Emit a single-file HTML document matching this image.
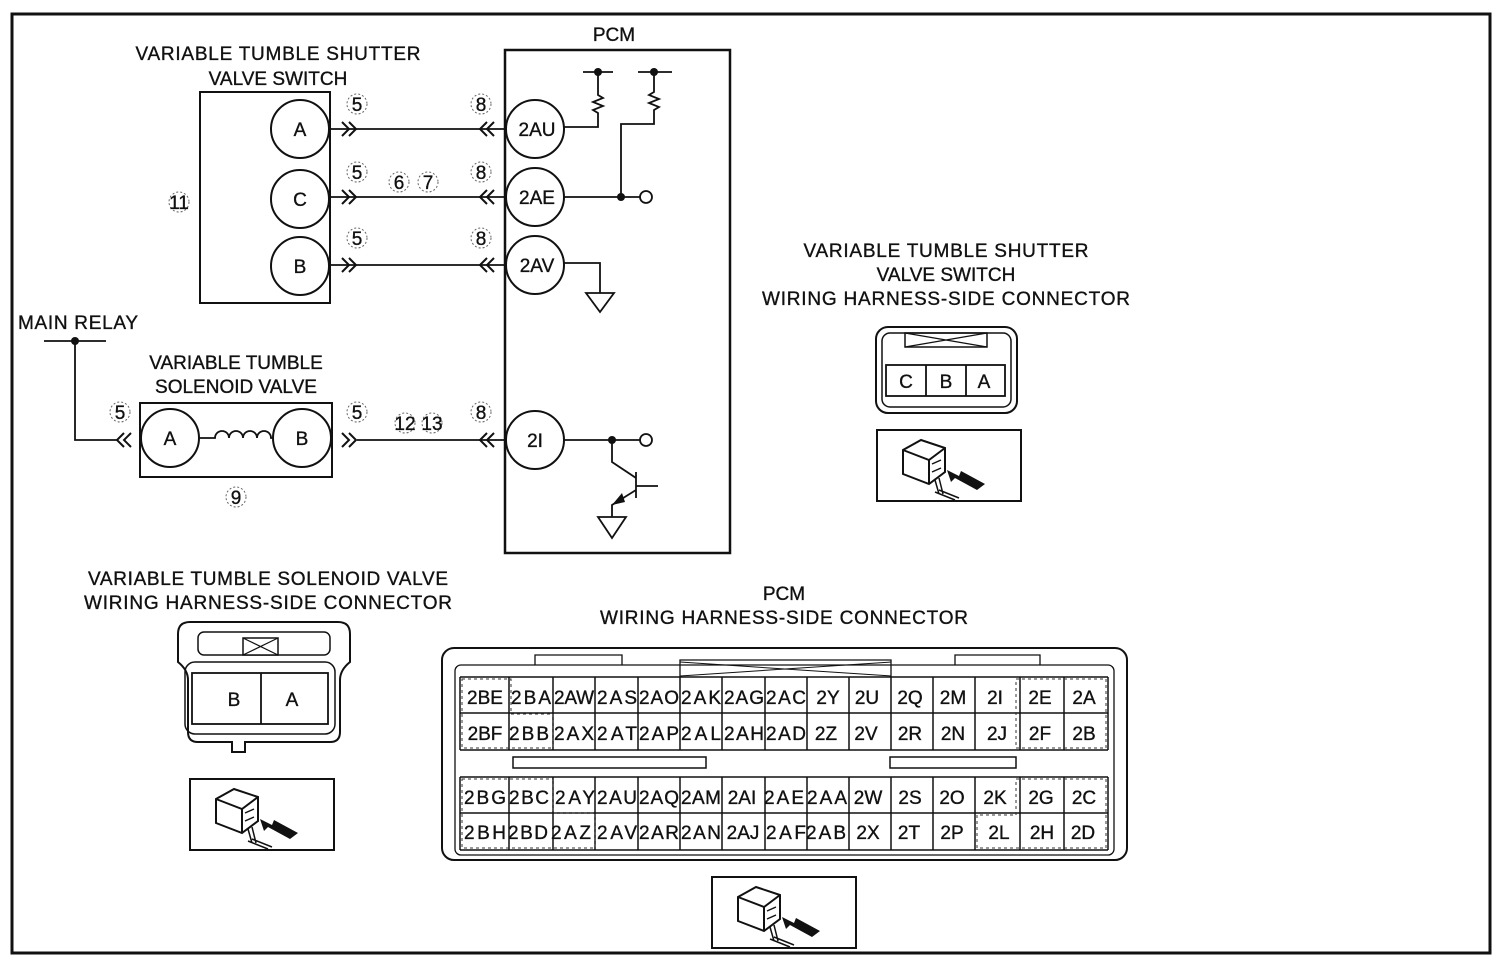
<!DOCTYPE html>
<html><head><meta charset="utf-8"><style>
html,body{margin:0;padding:0;background:#fff;}
svg{display:block;}
text{font-family:"Liberation Sans",sans-serif;fill:#111;stroke:#111;stroke-width:0.35;}
</style></head><body>
<svg width="1502" height="966" viewBox="0 0 1502 966" xmlns="http://www.w3.org/2000/svg">
<defs>
<g id="icon">
  <rect x="0" y="0" width="144" height="71" fill="#fff" stroke="#111" stroke-width="2"/>
  <path d="M26 20 L44 10 L68 18 L68 42 L52 54 L26 44 Z" fill="#fff" stroke="#111" stroke-width="2"/>
  <path d="M26 20 L52 30 L68 18 M52 30 L52 54" fill="none" stroke="#111" stroke-width="2"/>
  <path d="M55 34 L64 30 M55 42 L64 38 M58 50 L62 64 M62 48 L66 64 M58 62 L78 70 M62 60 L82 68" stroke="#111" stroke-width="1.5" fill="none"/>
  <path d="M70 40 L82 46 L84 41 L108 54 L100 60 L78 48 L74 52 Z" fill="#111"/>
</g>
<g id="chR"><path d="M0 -7 L7 0 L0 7 M7 -7 L14 0 L7 7" fill="none" stroke="#111" stroke-width="2"/></g>
<g id="chL"><path d="M14 -7 L7 0 L14 7 M7 -7 L0 0 L7 7" fill="none" stroke="#111" stroke-width="2"/></g>
</defs>
<rect x="12" y="14" width="1478" height="939" fill="none" stroke="#111" stroke-width="3"/>

<g font-size="19" text-anchor="middle">
<text x="278" y="60" textLength="285">VARIABLE TUMBLE SHUTTER</text>
<text x="278" y="85">VALVE SWITCH</text>
<text x="614" y="41">PCM</text>
<text x="236" y="369">VARIABLE TUMBLE</text>
<text x="236" y="393">SOLENOID VALVE</text>
<text x="946" y="257" textLength="285">VARIABLE TUMBLE SHUTTER</text>
<text x="946" y="281">VALVE SWITCH</text>
<text x="946" y="305" textLength="368">WIRING HARNESS-SIDE CONNECTOR</text>
<text x="268" y="585" textLength="360">VARIABLE TUMBLE SOLENOID VALVE</text>
<text x="268" y="609" textLength="368">WIRING HARNESS-SIDE CONNECTOR</text>
<text x="784" y="600">PCM</text>
<text x="784" y="624" textLength="368">WIRING HARNESS-SIDE CONNECTOR</text>
</g>
<text x="18" y="329" font-size="19" textLength="120">MAIN RELAY</text>

<rect x="200" y="92" width="130" height="211" fill="none" stroke="#111" stroke-width="2"/>
<g fill="#fff" stroke="#111" stroke-width="2">
<circle cx="300" cy="129" r="29"/><circle cx="300" cy="199" r="29"/><circle cx="300" cy="266" r="29"/>
</g>
<g font-size="19" text-anchor="middle">
<text x="300" y="136">A</text><text x="300" y="206">C</text><text x="300" y="273">B</text>
</g>
<g stroke="#111" stroke-width="1.8" fill="none">
<path d="M330 129 H505 M330 197 H505 M330 265 H505"/>
<path d="M75 341 V440 H118 M44 341 H106 M357 440 H505"/>
<path d="M199 438 h16 a7 7 0 0 1 14 0 a7 7 0 0 1 14 0 a7 7 0 0 1 14 0 a7 7 0 0 1 14 0 h2"/>
</g>
<circle cx="75" cy="341" r="4" fill="#111"/>
<use href="#chR" x="342" y="129"/><use href="#chR" x="342" y="197"/><use href="#chR" x="342" y="265"/>
<use href="#chL" x="480" y="129"/><use href="#chL" x="480" y="197"/><use href="#chL" x="480" y="265"/>
<use href="#chL" x="117" y="440"/><use href="#chR" x="342" y="440"/><use href="#chL" x="480" y="440"/>

<g font-size="19" text-anchor="middle">
<g fill="none" stroke="#666" stroke-width="1" stroke-dasharray="2 2">
<circle cx="357" cy="104" r="10"/><circle cx="357" cy="172" r="10"/><circle cx="357" cy="238" r="10"/>
<circle cx="481" cy="104" r="10"/><circle cx="481" cy="172" r="10"/><circle cx="481" cy="238" r="10"/>
<circle cx="399" cy="182" r="10"/><circle cx="428" cy="182" r="10"/><circle cx="179" cy="202" r="10"/>
<circle cx="120" cy="412" r="10"/><circle cx="357" cy="412" r="10"/><circle cx="405" cy="423" r="10"/><circle cx="432" cy="423" r="10"/>
<circle cx="481" cy="412" r="10"/><circle cx="236" cy="497" r="10"/>
</g>
<text x="357" y="111">5</text><text x="357" y="179">5</text><text x="357" y="245">5</text>
<text x="481" y="111">8</text><text x="481" y="179">8</text><text x="481" y="245">8</text>
<text x="399" y="189">6</text><text x="428" y="189">7</text><text x="179" y="209">11</text>
<text x="120" y="419">5</text><text x="357" y="419">5</text><text x="405" y="430">12</text><text x="432" y="430">13</text>
<text x="481" y="419">8</text><text x="236" y="504">9</text>
</g>

<rect x="140" y="403" width="192" height="74" fill="none" stroke="#111" stroke-width="2"/>
<g fill="#fff" stroke="#111" stroke-width="2">
<circle cx="170" cy="438" r="29"/><circle cx="302" cy="438" r="29"/>
</g>
<g font-size="19" text-anchor="middle"><text x="170" y="445">A</text><text x="302" y="445">B</text></g>

<rect x="505" y="50" width="225" height="503" fill="none" stroke="#111" stroke-width="2.5"/>
<g fill="#fff" stroke="#111" stroke-width="2">
<circle cx="535" cy="129" r="29"/><circle cx="535" cy="197" r="29"/><circle cx="535" cy="265" r="29"/><circle cx="535" cy="440" r="29"/>
</g>
<g font-size="19" text-anchor="middle">
<text x="537" y="136">2AU</text><text x="537" y="204">2AE</text><text x="537" y="272">2AV</text><text x="535" y="447">2I</text>
</g>
<g stroke="#111" stroke-width="1.8" fill="none">
<path d="M564 127 H598 V113 l-5 -3 l10 -4 l-10 -4 l10 -4 l-5 -3 V72 M583 72 H613"/>
<path d="M638 72 H672 M654 72 V92 l-5 3 l10 4 l-10 4 l10 4 l-5 3 V124 H621 V197 M564 197 H640"/>
<circle cx="646" cy="197" r="6" fill="#fff"/>
<path d="M564 263 H600 V293 M586 293 H614 L600 312 Z"/>
<path d="M564 440 H640"/>
<circle cx="646" cy="440" r="6" fill="#fff"/>
<path d="M612 440 V462 L636 478 M636 472 V498 M636 486 H658 M636 490 L612 505 V517 M598 517 H626 L612 538 Z"/>
</g>
<circle cx="598" cy="72" r="4" fill="#111"/><circle cx="654" cy="72" r="4" fill="#111"/>
<circle cx="621" cy="197" r="4" fill="#111"/><circle cx="612" cy="440" r="4" fill="#111"/>
<path d="M612 505 L622 493 L625 502 Z" fill="#111"/>

<rect x="876" y="327" width="141" height="86" rx="12" fill="none" stroke="#111" stroke-width="2"/>
<rect x="882" y="333" width="129" height="74" rx="8" fill="none" stroke="#111" stroke-width="1.5"/>
<rect x="905" y="333" width="82" height="14" fill="none" stroke="#111" stroke-width="1.5"/>
<path d="M905 333 L987 347 M905 347 L987 333" stroke="#111" stroke-width="1.2"/>
<rect x="886" y="365" width="119" height="31" fill="#fff" stroke="#111" stroke-width="1.8"/>
<path d="M926 365 V396 M966 365 V396" stroke="#111" stroke-width="1.8"/>
<g font-size="19" text-anchor="middle"><text x="906" y="388">C</text><text x="946" y="388">B</text><text x="984" y="388">A</text></g>
<use href="#icon" x="877" y="430"/>

<path d="M190 622 H338 Q350 622 350 634 V662 Q340 670 340 680 V732 Q340 742 330 742 H245 V752 H232 V742 H198 Q188 742 188 732 V680 Q188 670 178 662 V634 Q178 622 190 622 Z" fill="none" stroke="#111" stroke-width="2"/>
<rect x="198" y="632" width="132" height="23" rx="6" fill="none" stroke="#111" stroke-width="1.5"/>
<rect x="243" y="638" width="35" height="17" fill="#fff" stroke="#111" stroke-width="1.5"/>
<path d="M243 638 L278 655 M243 655 L278 638" stroke="#111" stroke-width="1.2"/>
<rect x="185" y="662" width="150" height="72" rx="10" fill="none" stroke="#111" stroke-width="1.5"/>
<rect x="192" y="673" width="136" height="51" fill="#fff" stroke="#111" stroke-width="1.8"/>
<path d="M261 673 V724" stroke="#111" stroke-width="1.8"/>
<g font-size="19" text-anchor="middle"><text x="234" y="706">B</text><text x="292" y="706">A</text></g>
<use href="#icon" x="190" y="779"/>

<rect x="442" y="648" width="685" height="212" rx="12" fill="none" stroke="#111" stroke-width="2"/>
<rect x="455" y="665" width="659" height="190" rx="6" fill="none" stroke="#111" stroke-width="1.3"/>
<path d="M535 665 V655 H622 V665 M680 677 V660 H891 V677 M955 665 V655 H1040 V665" fill="none" stroke="#111" stroke-width="1.3"/>
<path d="M680 662 L891 676 M680 676 L891 662" stroke="#111" stroke-width="1"/>
<rect x="513" y="757" width="193" height="11" fill="none" stroke="#111" stroke-width="1.5"/>
<rect x="890" y="757" width="126" height="11" fill="none" stroke="#111" stroke-width="1.5"/>
<g stroke="#111" stroke-width="1.5" fill="none">
<path d="M460 677 H1108 M460 713 H1108 M460 750 H1108 M460 777 H1108 M460 813 H1108 M460 850 H1108"/>
<path d="M460 677V750 M509 677V750 M553 677V750 M595 677V750 M638 677V750 M680 677V750 M722 677V750 M765 677V750 M807 677V750 M849 677V750 M891 677V750 M933 677V750 M975 677V750 M1020 677V750 M1064 677V750 M1108 677V750"/>
<path d="M460 777V850 M509 777V850 M553 777V850 M595 777V850 M638 777V850 M680 777V850 M722 777V850 M765 777V850 M807 777V850 M849 777V850 M891 777V850 M933 777V850 M975 777V850 M1020 777V850 M1064 777V850 M1108 777V850"/>
</g>
<g stroke="#333" stroke-width="1" fill="none" stroke-dasharray="3 3">
<path d="M462 679 H511 V714 H553 V748 H462 Z"/>
<path d="M1016 679 H1106 V748 H1016 Z"/>
<path d="M1016 779 H1106 V848 H977 V815 H1016 Z"/>
<path d="M462 779 H553 V813 H595 V848 H462 Z"/>
</g>
<g font-size="19" text-anchor="middle">
<text x="485" y="704">2BE</text><text x="531" y="704" textLength="40">2BA</text><text x="574" y="704" textLength="40">2AW</text><text x="617" y="704" textLength="40">2AS</text><text x="659" y="704" textLength="40">2AO</text><text x="701" y="704" textLength="40">2AK</text><text x="744" y="704" textLength="40">2AG</text><text x="786" y="704" textLength="40">2AC</text><text x="828" y="704">2Y</text><text x="867" y="704">2U</text><text x="910" y="704">2Q</text><text x="953" y="704">2M</text><text x="995" y="704">2I</text><text x="1040" y="704">2E</text><text x="1084" y="704">2A</text>
<text x="485" y="740">2BF</text><text x="529" y="740" textLength="40">2BB</text><text x="574" y="740" textLength="40">2AX</text><text x="617" y="740" textLength="40">2AT</text><text x="659" y="740" textLength="40">2AP</text><text x="701" y="740" textLength="40">2AL</text><text x="744" y="740" textLength="40">2AH</text><text x="786" y="740" textLength="40">2AD</text><text x="826" y="740">2Z</text><text x="866" y="740">2V</text><text x="910" y="740">2R</text><text x="953" y="740">2N</text><text x="997" y="740">2J</text><text x="1040" y="740">2F</text><text x="1084" y="740">2B</text>
<text x="485" y="804" textLength="42">2BG</text><text x="529" y="804" textLength="40">2BC</text><text x="575" y="804" textLength="40">2AY</text><text x="617" y="804" textLength="40">2AU</text><text x="659" y="804" textLength="40">2AQ</text><text x="701" y="804" textLength="40">2AM</text><text x="742" y="804">2AI</text><text x="784" y="804" textLength="40">2AE</text><text x="827" y="804" textLength="40">2AA</text><text x="868" y="804">2W</text><text x="910" y="804">2S</text><text x="952" y="804">2O</text><text x="995" y="804">2K</text><text x="1041" y="804">2G</text><text x="1084" y="804">2C</text>
<text x="485" y="839" textLength="42">2BH</text><text x="528" y="839" textLength="40">2BD</text><text x="571" y="839" textLength="40">2AZ</text><text x="617" y="839" textLength="40">2AV</text><text x="659" y="839" textLength="40">2AR</text><text x="701" y="839" textLength="40">2AN</text><text x="743" y="839">2AJ</text><text x="786" y="839" textLength="40">2AF</text><text x="826" y="839" textLength="40">2AB</text><text x="868" y="839">2X</text><text x="909" y="839">2T</text><text x="952" y="839">2P</text><text x="999" y="839">2L</text><text x="1042" y="839">2H</text><text x="1083" y="839">2D</text>
</g>
<use href="#icon" x="712" y="877"/>
</svg>
</body></html>
